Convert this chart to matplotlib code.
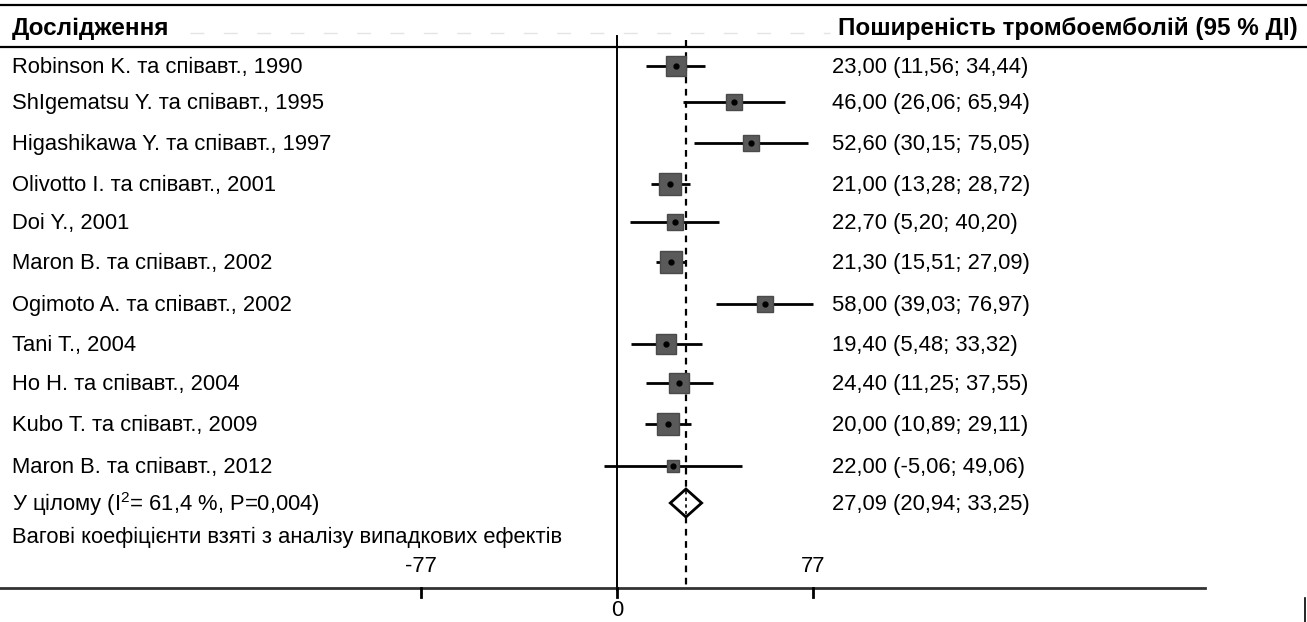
import matplotlib
matplotlib.use("Agg")
import matplotlib.pyplot as plt
import matplotlib.transforms as mtransforms
from matplotlib.patches import Polygon

plt.rcParams['font.family'] = ['Liberation Sans', 'DejaVu Sans']
plt.rcParams['mathtext.fontset'] = 'custom'
plt.rcParams['mathtext.rm'] = 'Liberation Sans'
plt.rcParams['mathtext.it'] = 'Liberation Sans'

# ---- data ----
studies = [
    "Robinson K. та співавт., 1990",
    "ShIgematsu Y. та співавт., 1995",
    "Higashikawa Y. та співавт., 1997",
    "Olivotto I. та співавт., 2001",
    "Doi Y., 2001",
    "Maron B. та співавт., 2002",
    "Ogimoto A. та співавт., 2002",
    "Tani T., 2004",
    "Ho H. та співавт., 2004",
    "Kubo T. та співавт., 2009",
    "Maron B. та співавт., 2012",
]
estimates = [23.00, 46.00, 52.60, 21.00, 22.70, 21.30, 58.00, 19.40, 24.40, 20.00, 22.00]
ci_low = [11.56, 26.06, 30.15, 13.28, 5.20, 15.51, 39.03, 5.48, 11.25, 10.89, -5.06]
ci_high = [34.44, 65.94, 75.05, 28.72, 40.20, 27.09, 76.97, 33.32, 37.55, 29.11, 49.06]
overall_est = 27.09
overall_low = 20.94
overall_high = 33.25
overall_label = r"У цілому (I$^{2}$= 61,4 %, P=0,004)"
weights_note = "Вагові коефіцієнти взяті з аналізу випадкових ефектів"
header_left = "Дослідження"
header_right = "Поширеність тромбоемболій (95 % ДІ)"
tick_values = [-77, 0, 77]
tick_labels = ["-77", "0", "77"]

# ---- layout / style ----
W, H = 1307, 622
row_y = [66, 102, 143, 184, 222, 262, 304, 344, 383, 424, 466]
overall_y = 503
box_size = [15, 12, 11, 16, 11, 16, 12, 15, 14, 16, 9]  # marker size (pt)
px_per_unit = 196 / 77.0
x0_px = 617
tdy = 1.5  # text vertical nudge

fig = plt.figure(figsize=(W / 100, H / 100), dpi=100)
ax = fig.add_axes([0, 0, 1, 1])
ax.set_xlim(-x0_px / px_per_unit, (W - x0_px) / px_per_unit)
ax.set_ylim(H, 0)
ax.axis('off')


def fx(p):
    return p / W


bt = mtransforms.blended_transform_factory(ax.transAxes, ax.transData)

fs = 15.8
fsb = 17.5
# header lines
ax.plot([0, 1], [5, 5], transform=bt, color='black', lw=1.6, clip_on=False)
ax.plot([0, 1], [47, 47], transform=bt, color='black', lw=1.6, clip_on=False)
ax.plot([fx(190), fx(830)], [33, 33], transform=bt, color='#e4e4e4', lw=1.0,
        ls=(0, (10, 14)))
ax.text(fx(12), 28, header_left, transform=bt, fontsize=fsb, fontweight='bold',
        va='center', ha='left')
ax.text(fx(1298), 28, header_right, transform=bt, fontsize=fsb, fontweight='bold',
        va='center', ha='right')

# vertical zero line
ax.plot([0, 0], [36, 590], color='black', lw=1.4)
# dashed overall line
ax.plot([overall_est, overall_est], [40, 588], color='black', lw=1.6,
        ls=(0, (3, 2.5)))

# studies
for i, name in enumerate(studies):
    y = row_y[i]
    ax.plot([ci_low[i], ci_high[i]], [y, y], color='black', lw=2.0, solid_capstyle='butt')
    ax.plot(estimates[i], y, marker='s', markersize=box_size[i], color='#5a5a5a',
            markeredgecolor='#4a4a4a', linestyle='none')
    ax.plot(estimates[i], y, marker='o', markersize=3.5, color='black', linestyle='none')
    ax.text(fx(12), y + tdy, name, transform=bt, fontsize=fs, va='center', ha='left')
    txt = "{:.2f} ({:.2f}; {:.2f})".format(estimates[i], ci_low[i], ci_high[i]).replace('.', ',')
    ax.text(fx(832), y + tdy, txt, transform=bt, fontsize=fs, va='center', ha='left')

# overall diamond
dia = Polygon([[overall_low, overall_y], [overall_est, overall_y - 14],
               [overall_high, overall_y], [overall_est, overall_y + 14]],
              closed=True, facecolor='white', edgecolor='black', lw=2.0, zorder=3)
ax.add_patch(dia)
ax.plot([overall_est, overall_est], [overall_y - 12, overall_y + 12], color='black',
        lw=1.2, ls=(0, (2, 2)), zorder=4)
ax.text(fx(12), overall_y + tdy, overall_label, transform=bt, fontsize=fs, va='center', ha='left')
otxt = "{:.2f} ({:.2f}; {:.2f})".format(overall_est, overall_low, overall_high).replace('.', ',')
ax.text(fx(832), overall_y + tdy, otxt, transform=bt, fontsize=fs, va='center', ha='left')
ax.text(fx(12), 537, weights_note, transform=bt, fontsize=fs, va='center', ha='left')

# x axis
ax.plot([0, fx(1205)], [588, 588], transform=bt, color='#333333', lw=2.0, clip_on=False)
for v, lab in zip(tick_values, tick_labels):
    ax.plot([v, v], [588, 597], color='black', lw=2.0)
    if v == 0:
        ax.text(v, 611, lab, fontsize=fs, ha='center', va='center')
    else:
        ax.text(v, 566, lab, fontsize=fs, ha='center', va='center')

# right border fragment
ax.plot([fx(1305), fx(1305)], [598, 622], transform=bt, color='black', lw=1.2)

fig.savefig("out.png", dpi=100)
